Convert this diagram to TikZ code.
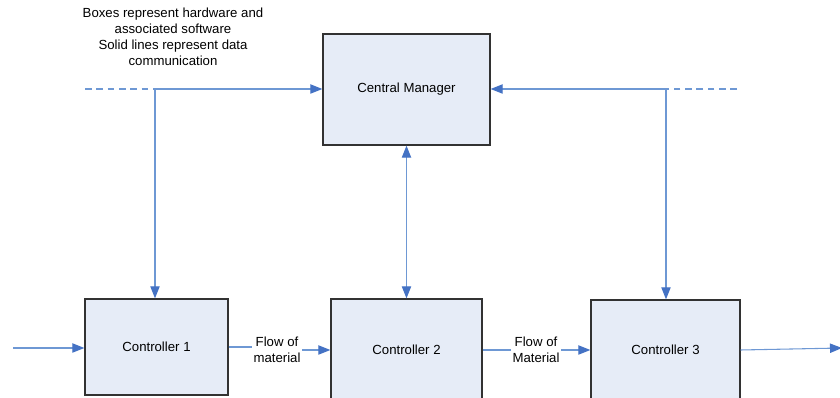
\documentclass[tikz,border=0pt]{standalone}
\usepackage{fontspec}
\setmainfont{Liberation Sans}
\usetikzlibrary{arrows.meta}
\definecolor{lineblue}{RGB}{110,152,212}
\definecolor{tipblue}{RGB}{68,114,196}
\definecolor{boxfill}{RGB}{230,236,247}
\definecolor{boxedge}{RGB}{50,50,50}
\begin{document}
\begin{tikzpicture}[x=0.75pt,y=-0.75pt,
  every node/.style={font=\fontsize{9.9}{12}\selectfont},
  box/.style={draw=boxedge,fill=boxfill,line width=1pt,inner sep=0pt,align=center},
  link/.style={draw=lineblue,line width=0.8pt},
  tip/.style={-{Triangle[length=9pt,width=7pt,color=tipblue]}},
  lbl/.style={align=center,inner sep=1pt}]
\path[use as bounding box,clip] (0,0) rectangle (840,398);
\node[box,minimum width=167*0.75pt,minimum height=111*0.75pt] (cm) at (406.5,89.5) {Central Manager};
\node[box,minimum width=143*0.75pt,minimum height=96*0.75pt] (c1) at (156.5,347) {Controller 1};
\node[box,minimum width=151*0.75pt,minimum height=102*0.75pt] (c2) at (406.5,350) {Controller 2};
\node[box,minimum width=149*0.75pt,minimum height=100*0.75pt] (c3) at (665.5,350) {Controller 3};
\node[align=center,inner sep=0pt] (note) at (173,37) {Boxes represent hardware and\\associated software\\Solid lines represent data\\communication};
\coordinate (ld) at (85,89);
\coordinate (lj) at (155,89);
\coordinate (rd) at (737,89);
\coordinate (rj) at (666,89);
\coordinate (in) at (13,348);
\coordinate (out) at (842,348);
\node[lbl] (f1) at (277,350) {Flow of\\material};
\node[lbl] (f2) at (536,350) {Flow of\\Material};
\draw[link,dashed,dash pattern=on 5pt off 3.5pt] (ld) -- (lj);
\draw[link,dashed,dash pattern=on 5pt off 3.5pt] (rd) -- (rj);
\draw[link,tip] (lj) -- (cm.west |- lj);
\draw[link,tip] (rj) -- (cm.east |- rj);
\draw[link,tip] (lj) -- (lj |- c1.north);
\draw[link,tip] (rj) -- (rj |- c3.north);
\draw[link,{Triangle[length=9pt,width=7pt,color=tipblue]}-{Triangle[length=9pt,width=7pt,color=tipblue]}] (cm.south) -- (c2.north);
\draw[link,tip] (in) -- (c1.west |- in);
\draw[link] (c1.east) -- (f1.west |- c1.east);
\draw[link,tip] (f1.east) -- (c2.west);
\draw[link] (c2.east) -- (f2.west);
\draw[link,tip] (f2.east) -- (c3.west);
\draw[link,tip] (c3.east) -- (out);
\end{tikzpicture}
\end{document}
